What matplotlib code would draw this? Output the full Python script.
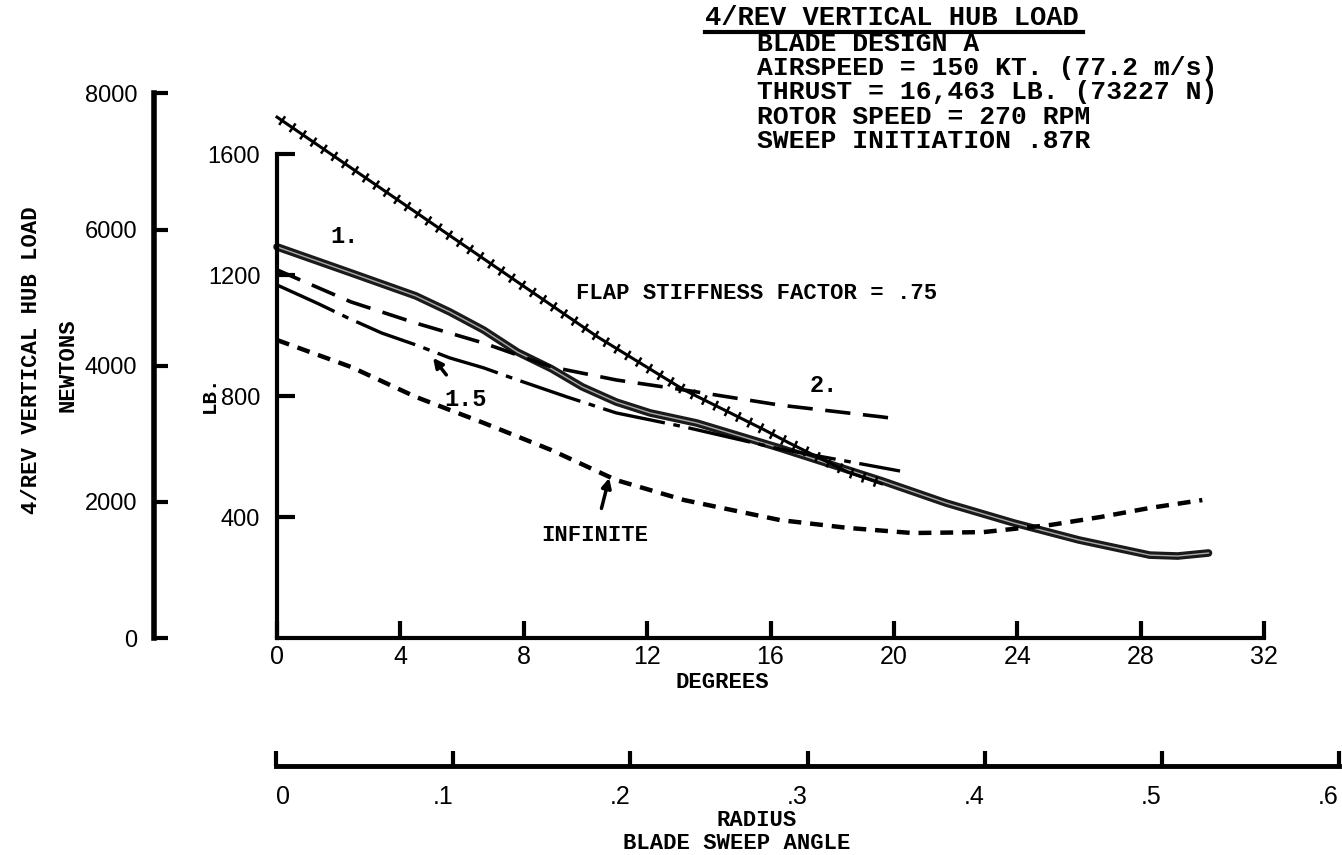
import matplotlib
matplotlib.use("Agg")
import matplotlib.pyplot as plt
import matplotlib.patheffects as pe
from matplotlib.lines import Line2D

# ugao zakosenja (stepeni) -> vertikalno opterecenje (lb), ocitano sa slike
deg_1 = [0, 2.4, 4.5, 5.6, 6.7, 7.8, 8.9, 9.9, 11.0, 12.1, 13.6, 16.3, 19.6, 21.7, 23.9, 26.0, 28.3, 29.2, 30.2]
lb_1 = [1293, 1207, 1131, 1078, 1018, 945, 890, 830, 780, 744, 711, 628, 520, 446, 380, 324, 274, 271, 281]

deg_15 = [0, 1.3, 2.3, 3.4, 4.5, 5.6, 6.7, 7.8, 9.4, 11.0, 13.2, 16.3, 20.2]
lb_15 = [1167, 1107, 1058, 1008, 969, 926, 893, 853, 797, 744, 698, 625, 552]

deg_2 = [0, 2.4, 4.5, 6.7, 8.9, 11.0, 13.2, 16.3, 19.6, 19.9]
lb_2 = [1217, 1111, 1041, 975, 896, 853, 820, 770, 731, 727]

deg_inf = [0, 2.4, 4.5, 6.7, 8.9, 11.0, 13.2, 16.3, 18.5, 20.6, 22.9, 25.1, 26.7, 28.3, 30.0]
lb_inf = [985, 896, 797, 711, 621, 522, 456, 390, 364, 347, 350, 374, 400, 430, 456]

deg_lin = [0, 10.4, 13.2, 15.8, 16.6, 18.5, 19.6]
lb_lin = [1722, 995, 820, 688, 645, 549, 510]

deg_ticks = [0, 4, 8, 12, 16, 20, 24, 28, 32]
lb_ticks = [400, 800, 1200, 1600]
n_ticks = [0, 2000, 4000, 6000, 8000]
r_ticks = [0, 0.1, 0.2, 0.3, 0.4, 0.5, 0.6]
r_labels = ["0", ".1", ".2", ".3", ".4", ".5", ".6"]

info = ["BLADE DESIGN A", "AIRSPEED = 150 KT. (77.2 m/s)", "THRUST = 16,463 LB. (73227 N)",
        "ROTOR SPEED = 270 RPM", "SWEEP INITIATION .87R"]

MONO = ["Liberation Mono", "DejaVu Sans Mono"]
plt.rcParams["font.family"] = ["Liberation Sans", "DejaVu Sans"]

W, H = 1342, 855
def px(x, y):   # pikseli -> koordinate figure
    return x / W, 1 - y / H

fig = plt.figure(figsize=(W / 100, H / 100), dpi=100)

# glavni dijagram
ax = fig.add_axes([277 / W, 1 - 638 / H, (1264 - 277) / W, (638 - 93.5) / H])
ax.set_xlim(0, 32)
ax.set_ylim(0, 1800)
ax.patch.set_visible(False)
for s in ["top", "right"]:
    ax.spines[s].set_visible(False)
ax.spines["left"].set_bounds(0, 1600)
ax.spines["left"].set_linewidth(3)
ax.spines["bottom"].set_linewidth(3)
ax.set_xticks(deg_ticks)
ax.set_yticks(lb_ticks)
ax.tick_params(axis="x", direction="in", length=12, width=3, pad=5, labelsize=18)
ax.tick_params(axis="y", direction="in", length=13, width=3, pad=12, labelsize=17)

ax.plot(deg_1, lb_1, color="#1a1a1a", lw=5.5, solid_capstyle="round", clip_on=False)
ax.plot(deg_1, lb_1, color="#aaaaaa", lw=1.0, clip_on=False)
ax.plot(deg_15, lb_15, color="black", lw=2.4, dashes=(19, 2.6, 2, 2.6), clip_on=False)
ax.plot(deg_2, lb_2, color="black", lw=2.6, dashes=(7, 3.5), clip_on=False)
ax.plot(deg_inf, lb_inf, color="black", lw=3.2, dashes=(2.9, 2), clip_on=False)
ax.plot(deg_lin, lb_lin, color="black", lw=2.2, clip_on=False,
        path_effects=[pe.TickedStroke(spacing=9, angle=90, length=0.32, linewidth=1.8),
                      pe.TickedStroke(spacing=9, angle=-90, length=0.32, linewidth=1.8),
                      pe.Normal()])

ax.text(2.2, 1326, "1.", family=MONO, weight="bold", size=17, ha="center", va="center")
ax.text(17.74, 836, "2.", family=MONO, weight="bold", size=17, ha="center", va="center")
ax.text(15.56, 1140, "FLAP STIFFNESS FACTOR = .75", family=MONO, weight="bold", size=16,
        ha="center", va="center")
ax.annotate("1.5", xy=(5.06, 926), xytext=(6.1, 790), family=MONO, weight="bold", size=17,
            ha="center", va="center",
            arrowprops=dict(arrowstyle="-|>", color="black", lw=2.5, mutation_scale=14,
                            shrinkA=9, shrinkB=0))
ax.annotate("INFINITE", xy=(10.77, 529), xytext=(10.3, 340), family=MONO, weight="bold", size=16,
            ha="center", va="center",
            arrowprops=dict(arrowstyle="-|>", color="black", lw=2.5, mutation_scale=14,
                            shrinkA=10, shrinkB=0))

# skala u njutnima
axn = fig.add_axes([154 / W, 1 - 638 / H, 0.0005, (638 - 93.5) / H])
axn.set_ylim(0, 8000)
axn.patch.set_visible(False)
for s in ["top", "right", "bottom"]:
    axn.spines[s].set_visible(False)
axn.spines["left"].set_linewidth(4)
axn.set_xticks([])
axn.set_yticks(n_ticks)
axn.tick_params(axis="y", direction="in", length=10, width=3, pad=12, labelsize=17)

# skala radijusa
axr = fig.add_axes([276 / W, 1 - 766 / H, (1339 - 276) / W, 0.0005])
axr.set_xlim(0, 0.6)
axr.patch.set_visible(False)
for s in ["top", "right", "left"]:
    axr.spines[s].set_visible(False)
axr.spines["bottom"].set_linewidth(3.5)
axr.set_yticks([])
axr.set_xticks(r_ticks)
axr.set_xticklabels(r_labels)
axr.tick_params(axis="x", direction="in", length=11, width=3, pad=14, labelsize=18)
for i, lbl in enumerate(axr.get_xticklabels()):
    lbl.set_ha("left" if i == 0 else "right")

# natpisi
lbl_kw = dict(family=MONO, weight="bold", size=16, ha="center", va="center")
fig.text(*px(722, 683), "DEGREES", **lbl_kw)
fig.text(*px(757, 820), "RADIUS", **lbl_kw)
fig.text(*px(737, 843), "BLADE SWEEP ANGLE", **lbl_kw)
fig.text(*px(32, 360), "4/REV VERTICAL HUB LOAD", rotation=90, **lbl_kw)
fig.text(*px(68, 365), "NEWTONS", rotation=90, **lbl_kw)
fig.text(*px(209, 394), "LB.", family=MONO, weight="bold", size=15, rotation=90,
         ha="center", va="center")

fig.text(*px(705, 18), "4/REV VERTICAL HUB LOAD", family=MONO, weight="bold", size=19.5,
         ha="left", va="center")
fig.add_artist(Line2D([705 / W, 1083 / W], [1 - 32 / H] * 2, color="black", lw=3))
for i, t in enumerate(info):
    fig.text(*px(757, 44 + 24.2 * i), t, family=MONO, weight="bold", size=19,
             ha="left", va="center")

fig.savefig("out.png", dpi=100)
